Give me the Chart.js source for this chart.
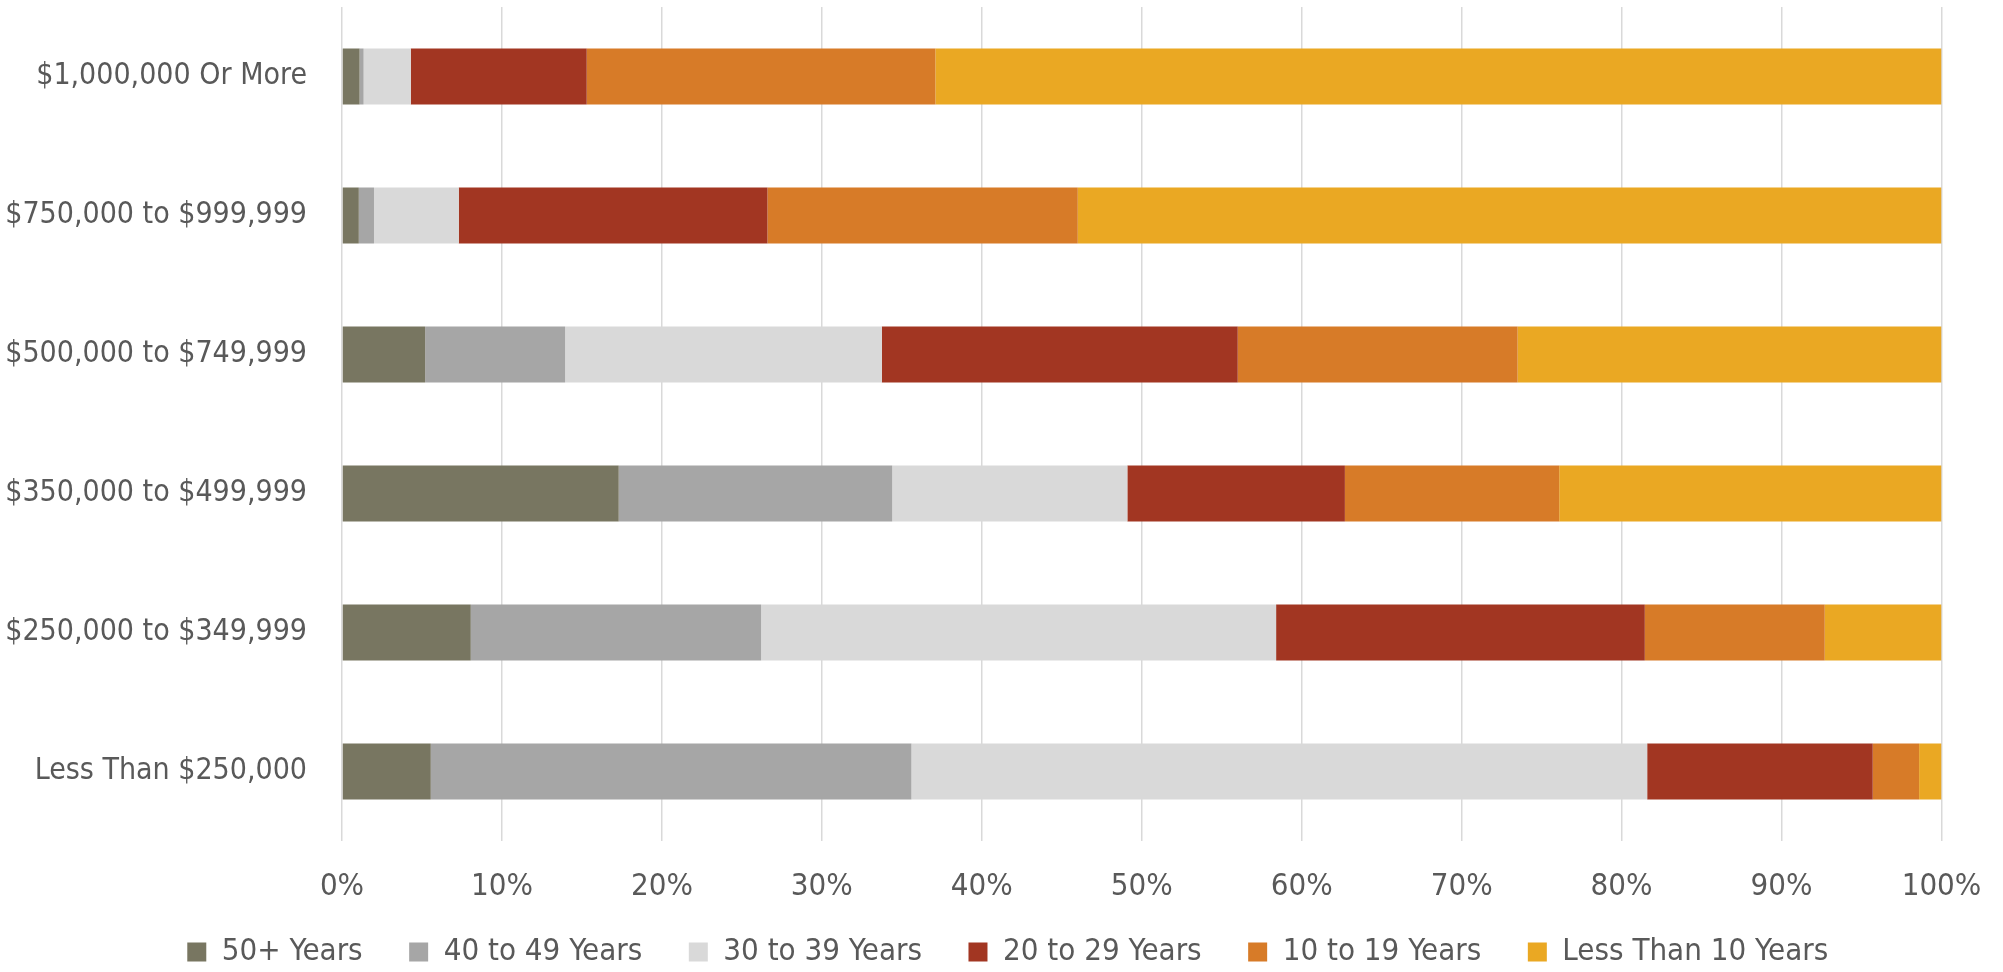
<!DOCTYPE html>
<html>
<head>
<meta charset="utf-8">
<script src="https://cdn.jsdelivr.net/npm/chart.js@4"></script>
<style>
  html, body { margin: 0; padding: 0; background: #fff; }
  #wrap { width: 2003px; height: 972px; }
</style>
</head>
<body>
<div id="wrap"><canvas id="tenureChart"></canvas></div>
<script>
// categorías (de arriba a abajo)
const categorias = [
  "$1,000,000 Or More",
  "$750,000 to $999,999",
  "$500,000 to $749,999",
  "$350,000 to $499,999",
  "$250,000 to $349,999",
  "Less Than $250,000",
];

// porcentaje de cada tramo por categoría
const anios50mas = [1.1, 1.05, 5.2, 17.3, 8.05, 5.55];
const anios40a49 = [0.25, 0.95, 8.75, 17.1, 18.15, 30.05];
const anios30a39 = [2.95, 5.3, 19.8, 14.7, 32.2, 46.0];
const anios20a29 = [11.0, 19.3, 22.25, 13.6, 23.05, 14.1];
const anios10a19 = [21.8, 19.4, 17.5, 13.4, 11.25, 2.9];
const menos10 = [62.9, 54.0, 26.5, 23.9, 7.3, 1.4];

const ticksX = [0, 10, 20, 30, 40, 50, 60, 70, 80, 90, 100];

const fuente = "'Liberation Sans Narrow', 'DejaVu Sans Condensed', sans-serif";
const grisTexto = "#595959";

function serie(label, data, color) {
  return {
    label: label,
    data: data,
    backgroundColor: color,
    borderWidth: 0,
    categoryPercentage: 1.0,
    barPercentage: 0.403,
  };
}

// mueve la leyenda (arriba y un poco a la derecha) después del layout
const moverLeyenda = {
  id: "moverLeyenda",
  afterLayout(chart) {
    const lg = chart.legend;
    if (!lg) return;
    lg.top -= 26;
    lg.bottom -= 26;
    lg.left += 37;
    lg.right += 37;
  },
};

new Chart(document.getElementById("tenureChart"), {
  type: "bar",
  data: {
    labels: categorias,
    datasets: [
      serie("50+ Years", anios50mas, "#787661"),
      serie("40 to 49 Years", anios40a49, "#A6A6A6"),
      serie("30 to 39 Years", anios30a39, "#D9D9D9"),
      serie("20 to 29 Years", anios20a29, "#A23622"),
      serie("10 to 19 Years", anios10a19, "#D77B28"),
      serie("Less Than 10 Years", menos10, "#EAA823"),
    ],
  },
  plugins: [moverLeyenda],
  options: {
    indexAxis: "y",
    responsive: true,
    maintainAspectRatio: false,
    animation: false,
    layout: { padding: { left: 0, right: 61.5, top: 7, bottom: -31.5 } },
    scales: {
      x: {
        stacked: true,
        min: 0,
        max: 100,
        afterBuildTicks: (axis) => {
          axis.ticks = ticksX.map((v) => ({ value: v }));
        },
        afterFit: (scale) => {
          scale.height = 75;
          scale.paddingLeft = 0;
          scale.paddingRight = 0;
        },
        grid: { color: "#D9D9D9", lineWidth: 1.5, drawTicks: false },
        border: { display: false },
        ticks: {
          padding: 27,
          color: grisTexto,
          font: { family: fuente, size: 31 },
          callback: (v) => v + "%",
        },
      },
      y: {
        stacked: true,
        afterFit: (scale) => {
          scale.width = 342;
          scale.paddingTop = 0;
          scale.paddingBottom = 0;
        },
        grid: { display: false, drawTicks: false },
        border: { display: false },
        ticks: {
          padding: 35,
          color: grisTexto,
          font: { family: fuente, size: 30 },
        },
      },
    },
    plugins: {
      legend: {
        position: "bottom",
        labels: {
          boxWidth: 19,
          boxHeight: 19,
          padding: 46.5,
          color: grisTexto,
          font: { family: fuente, size: 31 },
        },
      },
      tooltip: { enabled: false },
    },
  },
});
</script>
</body>
</html>
